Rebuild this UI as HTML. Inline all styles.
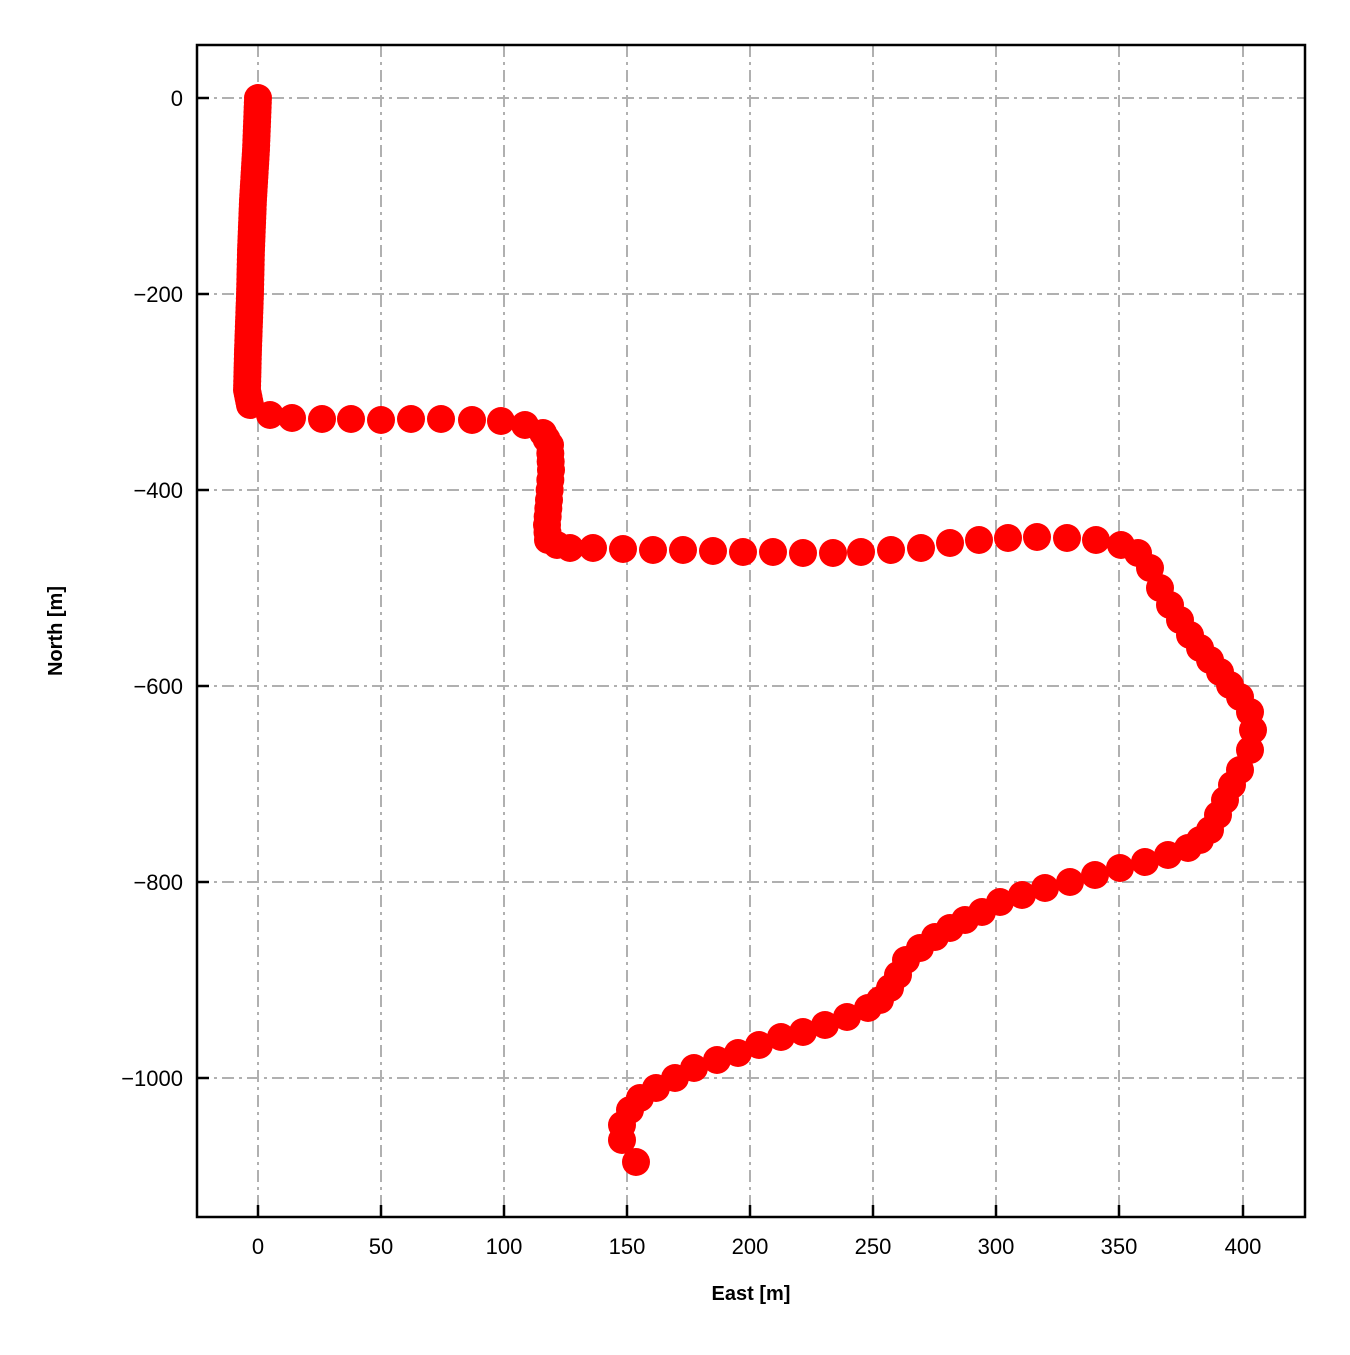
<!DOCTYPE html>
<html><head><meta charset="utf-8"><style>
body{margin:0;background:#fff}
text{font-family:"Liberation Sans",Arial,sans-serif}
</style></head><body>
<svg id="s" width="1350" height="1350" xmlns="http://www.w3.org/2000/svg">
<rect width="1350" height="1350" fill="#fff"/>
<g stroke="#b0b0b0" stroke-width="2" stroke-dasharray="12,5,3,5" fill="none">
<line x1="258" y1="45" x2="258" y2="1217"/><line x1="381" y1="45" x2="381" y2="1217"/><line x1="504" y1="45" x2="504" y2="1217"/><line x1="627" y1="45" x2="627" y2="1217"/><line x1="750" y1="45" x2="750" y2="1217"/><line x1="873" y1="45" x2="873" y2="1217"/><line x1="996" y1="45" x2="996" y2="1217"/><line x1="1119" y1="45" x2="1119" y2="1217"/><line x1="1243" y1="45" x2="1243" y2="1217"/>
<line x1="197" y1="98" x2="1305" y2="98"/><line x1="197" y1="294" x2="1305" y2="294"/><line x1="197" y1="490" x2="1305" y2="490"/><line x1="197" y1="686" x2="1305" y2="686"/><line x1="197" y1="882" x2="1305" y2="882"/><line x1="197" y1="1078" x2="1305" y2="1078"/>
</g>
<g id="pts" fill="#ff0000"></g>
<g stroke="#000" stroke-width="2.5">
<line x1="258" y1="1217" x2="258" y2="1205"/><line x1="381" y1="1217" x2="381" y2="1205"/><line x1="504" y1="1217" x2="504" y2="1205"/><line x1="627" y1="1217" x2="627" y2="1205"/><line x1="750" y1="1217" x2="750" y2="1205"/><line x1="873" y1="1217" x2="873" y2="1205"/><line x1="996" y1="1217" x2="996" y2="1205"/><line x1="1119" y1="1217" x2="1119" y2="1205"/><line x1="1243" y1="1217" x2="1243" y2="1205"/>
<line x1="197" y1="98" x2="209" y2="98"/><line x1="197" y1="294" x2="209" y2="294"/><line x1="197" y1="490" x2="209" y2="490"/><line x1="197" y1="686" x2="209" y2="686"/><line x1="197" y1="882" x2="209" y2="882"/><line x1="197" y1="1078" x2="209" y2="1078"/>
</g>
<rect x="197" y="45" width="1108" height="1172" fill="none" stroke="#000" stroke-width="2.5"/>
<g font-size="22" text-anchor="middle">
<text x="258" y="1254">0</text><text x="381" y="1254">50</text><text x="504" y="1254">100</text><text x="627" y="1254">150</text><text x="750" y="1254">200</text><text x="873" y="1254">250</text><text x="996" y="1254">300</text><text x="1119" y="1254">350</text><text x="1243" y="1254">400</text>
</g>
<g font-size="22" text-anchor="end">
<text x="183" y="106">0</text><text x="183" y="302">−200</text><text x="183" y="498">−400</text><text x="183" y="694">−600</text><text x="183" y="890">−800</text><text x="183" y="1086">−1000</text>
</g>
<text x="751" y="1300" font-size="20" font-weight="bold" text-anchor="middle">East [m]</text>
<text transform="translate(62,631) rotate(-90)" font-size="20" font-weight="bold" text-anchor="middle">North [m]</text>
</svg>
<script>
var P=[[258,98],[256,150],[253,200],[251,250],[250,294],[248,350],[247,390],[250,405],[270,415],[292,418],[322,419],[351,419],[381,420],[411,419],[441,419],[472,420],[501,421],[525,425],[543,433],[550,445],[551,470],[549,500],[547,525],[548,540],[557,545],[570,548],[593,548],[623,549],[653,550],[683,550],[713,551],[743,552],[773,552],[803,553],[833,553],[861,552],[891,550],[921,548],[950,543],[979,540],[1008,538],[1037,537],[1067,538],[1096,540],[1121,545],[1138,553],[1150,568],[1160,588],[1170,605],[1180,620],[1190,635],[1200,648],[1210,660],[1220,672],[1230,685],[1240,697],[1250,712],[1253,730],[1250,750],[1240,770],[1232,785],[1225,800],[1218,815],[1210,830],[1200,840],[1188,848],[1168,855],[1145,862],[1120,868],[1095,875],[1070,882],[1045,888],[1022,895],[1000,902],[982,912],[965,920],[950,928],[935,937],[920,948],[906,960],[898,975],[890,988],[880,1000],[868,1008],[847,1017],[825,1025],[803,1032],[781,1037],[759,1045],[738,1053],[717,1060],[694,1068],[675,1078],[656,1088],[640,1098],[630,1110],[622,1125],[622,1140],[636,1162]];
var g=document.getElementById('pts'),h='';
for(var i=0;i<P.length;i++){
 var step=0;
 if(i<7)step=5; else if(i>=18&&i<23)step=11;
 if(step&&i<P.length-1){var a=P[i],b=P[i+1];var d=Math.hypot(b[0]-a[0],b[1]-a[1]);var n=Math.max(1,Math.ceil(d/step));for(var k=0;k<n;k++){var t=k/n;h+='<circle cx="'+(a[0]+(b[0]-a[0])*t)+'" cy="'+(a[1]+(b[1]-a[1])*t)+'" r="14"/>';}}
 else h+='<circle cx="'+P[i][0]+'" cy="'+P[i][1]+'" r="14"/>';
}
g.innerHTML=h;
</script>
</body></html>
